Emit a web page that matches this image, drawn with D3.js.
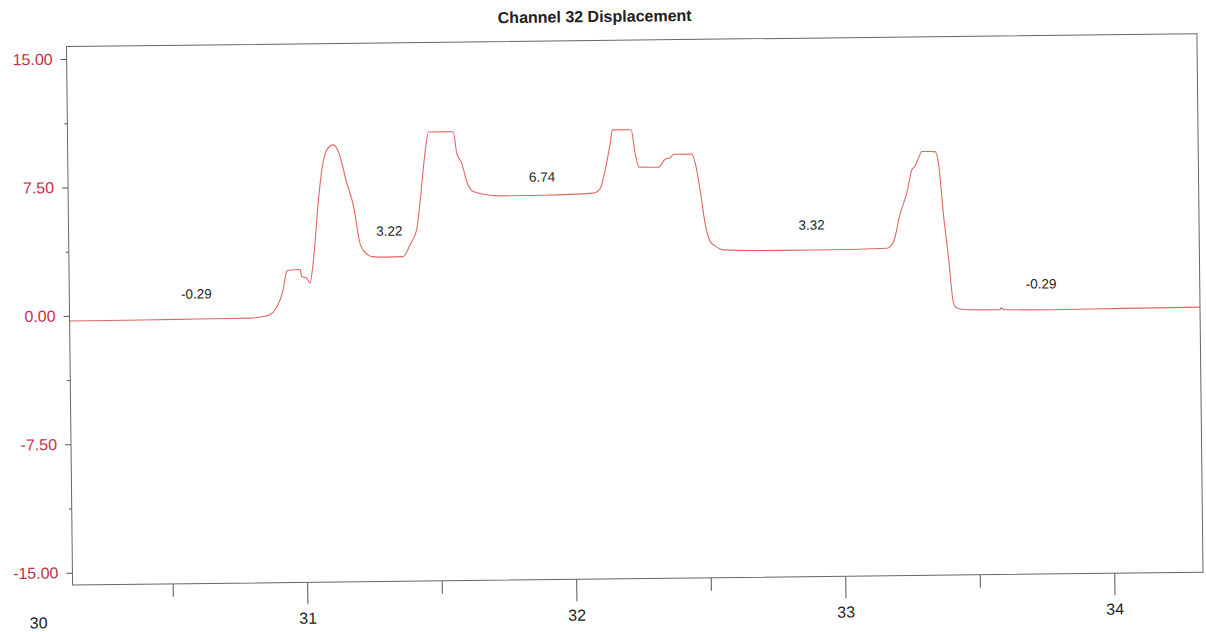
<!DOCTYPE html>
<html>
<head>
<meta charset="utf-8">
<script src="https://cdn.jsdelivr.net/npm/d3@7"></script>
<style>
  body { margin: 0; background: #fff; }
  text { font-family: "Liberation Sans", Arial, sans-serif; }
</style>
</head>
<body>
<script>
// data (time in s, displacement)
var timeValues = [30.128, 30.40, 30.60, 30.80, 30.85, 30.873, 30.892, 30.923, 30.937, 30.945, 30.987,
    30.993, 31.011, 31.023, 31.037, 31.058, 31.072, 31.091, 31.116, 31.134, 31.164, 31.188, 31.211,
    31.229, 31.255, 31.30, 31.371, 31.397, 31.422, 31.436, 31.457, 31.470, 31.562, 31.574, 31.592,
    31.610, 31.634, 31.733, 31.90, 32.080, 32.106, 32.125, 32.145, 32.154, 32.223, 32.237, 32.251,
    32.323, 32.348, 32.367, 32.380, 32.448, 32.460, 32.477, 32.494, 32.512, 32.530, 32.561, 32.698,
    32.90, 33.169, 33.194, 33.220, 33.245, 33.265, 33.277, 33.290, 33.303, 33.352, 33.364, 33.381,
    33.397, 33.414, 33.426, 33.464, 33.587, 33.591, 33.602, 33.773, 34.00, 34.33];
var displacementValues = [-0.30, -0.29, -0.27, -0.25, -0.17, -0.07, 0.22, 1.38, 2.45, 2.52, 2.55,
    2.14, 2.05, 1.75, 3.11, 6.61, 8.36, 9.52, 9.81, 9.42, 7.58, 6.23, 4.01,
    3.51, 3.26, 3.22, 3.24, 3.94, 4.81, 6.48, 9.40, 10.50, 10.50, 9.24, 8.66,
    7.58, 6.99, 6.72, 6.73, 6.82, 7.10, 8.17, 9.73, 10.50, 10.50, 9.12, 8.31,
    8.29, 8.75, 8.84, 9.04, 9.03, 8.50, 6.94, 4.99, 3.92, 3.66, 3.42, 3.36,
    3.35, 3.41, 3.80, 5.45, 6.61, 7.97, 8.20, 8.65, 9.03, 9.02, 8.34, 5.22,
    2.88, 0.16, -0.13, -0.24, -0.26, -0.15, -0.26, -0.29, -0.27, -0.24];

var annotationLabels = ["-0.29", "3.22", "6.74", "3.32", "-0.29"];
var annotationX = [30.60, 31.32, 31.89, 32.89, 33.74];
var annotationY = [1.20, 4.75, 7.80, 4.82, 1.23];

var yTickValues = [-15, -7.5, 0, 7.5, 15];
var yMinorTicks = [-11.25, -3.75, 3.75, 11.25];
var xTickValues = [31, 32, 33, 34];
var xMinorTicks = [30.5, 31.5, 32.5, 33.5];
var xFirstLabel = 30;

var svgWidth = 1206,
    svgHeight = 632;
var plotLeft = 69.5,
    plotRight = 1200,
    plotTop = 40.5,
    plotBottom = 579;

var svg = d3.select("body").append("svg")
    .attr("width", svgWidth)
    .attr("height", svgHeight);

// the scan is a little tilted, so the whole chart is turned a bit
var g = svg.append("g")
    .attr("transform", "rotate(-0.65, 600, 310)");

var x = d3.scaleLinear().domain([30.128, 34.33]).range([plotLeft, plotRight]);
var y = d3.scaleLinear().domain([-15.72, 15.73]).range([plotBottom, plotTop]);

// plain hyphen for negatives, like the original print
var yFormat = function(d) {
    return d.toFixed(2);
};

// title
g.append("text")
    .attr("x", 598)
    .attr("y", 22)
    .attr("text-anchor", "middle")
    .attr("font-size", "16px")
    .attr("font-weight", "bold")
    .attr("fill", "#222")
    .text("Channel 32 Displacement");

// x axis, long ticks with labels
var xAxis = g.append("g")
    .attr("transform", "translate(0," + plotBottom + ")")
    .call(d3.axisBottom(x).tickValues(xTickValues).tickSize(22).tickPadding(8).tickFormat(d3.format("d")));
xAxis.select(".domain").remove();
xAxis.selectAll("line").attr("stroke", "#555");
xAxis.selectAll("text").attr("font-size", "16px").attr("fill", "#222")
    .attr("font-family", "Liberation Sans, Arial, sans-serif");

// half-second ticks
var xMinor = g.append("g")
    .attr("transform", "translate(0," + plotBottom + ")")
    .call(d3.axisBottom(x).tickValues(xMinorTicks).tickSize(13).tickFormat(""));
xMinor.select(".domain").remove();
xMinor.selectAll("line").attr("stroke", "#555");

// the "30" label sits left of the frame, no tick
g.append("text")
    .attr("x", x(xFirstLabel))
    .attr("y", plotBottom + 43)
    .attr("text-anchor", "middle")
    .attr("font-size", "16px")
    .attr("fill", "#222")
    .text(xFirstLabel);

// y axis
var yAxis = g.append("g")
    .attr("transform", "translate(" + plotLeft + ",0)")
    .call(d3.axisLeft(y).tickValues(yTickValues).tickSize(6).tickPadding(8).tickFormat(yFormat));
yAxis.select(".domain").remove();
yAxis.selectAll("line").attr("stroke", "#555");
yAxis.selectAll("text").attr("font-size", "16px").attr("fill", "#c4314b")
    .attr("font-family", "Liberation Sans, Arial, sans-serif");

var yMinor = g.append("g")
    .attr("transform", "translate(" + plotLeft + ",0)")
    .call(d3.axisLeft(y).tickValues(yMinorTicks).tickSize(3).tickFormat(""));
yMinor.select(".domain").remove();
yMinor.selectAll("line").attr("stroke", "#555");

// frame
g.append("rect")
    .attr("x", plotLeft)
    .attr("y", plotTop)
    .attr("width", plotRight - plotLeft)
    .attr("height", plotBottom - plotTop)
    .attr("fill", "none")
    .attr("stroke", "#666")
    .attr("stroke-width", 1);

// displacement trace
var points = timeValues.map(function(t, i) {
    return [t, displacementValues[i]];
});

var line = d3.line()
    .x(function(d) { return x(d[0]); })
    .y(function(d) { return y(d[1]); })
    .curve(d3.curveMonotoneX);

g.append("path")
    .datum(points)
    .attr("d", line)
    .attr("fill", "none")
    .attr("stroke", "#dc6a64")
    .attr("stroke-width", 1.1);

// level annotations
g.selectAll(".level")
    .data(annotationLabels)
    .enter()
    .append("text")
    .attr("class", "level")
    .attr("x", function(d, i) { return x(annotationX[i]); })
    .attr("y", function(d, i) { return y(annotationY[i]); })
    .attr("dy", "0.35em")
    .attr("text-anchor", "middle")
    .attr("font-size", "13.5px")
    .attr("fill", "#222")
    .text(function(d) { return d; });
</script>
</body>
</html>
